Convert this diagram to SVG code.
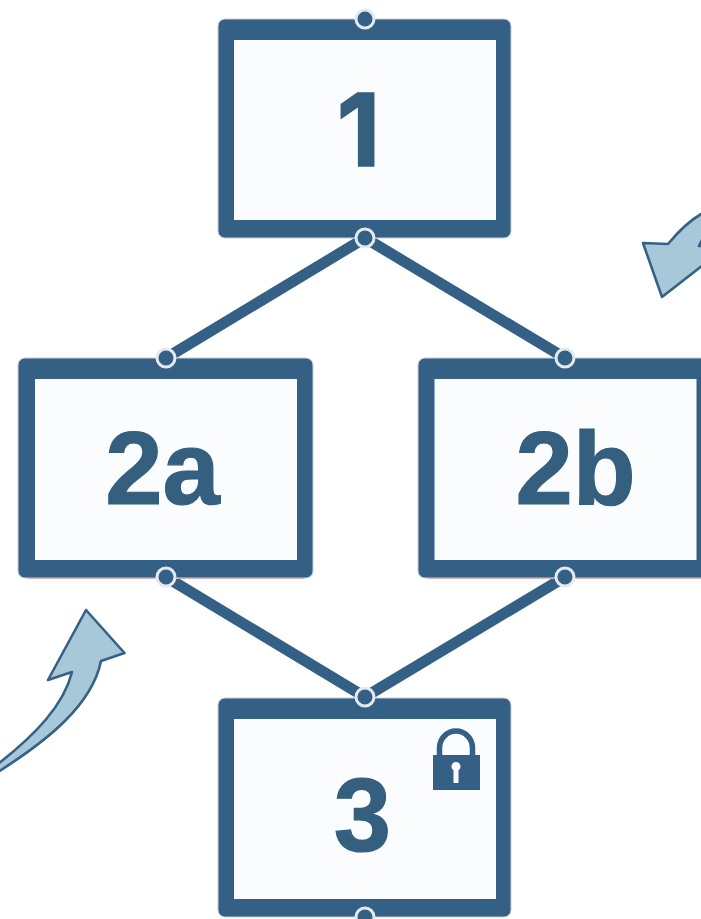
<svg xmlns="http://www.w3.org/2000/svg" width="701" height="919" viewBox="0 0 701 919">
<defs><filter id="soft" x="-5%" y="-5%" width="110%" height="110%"><feGaussianBlur stdDeviation="0.7"/></filter></defs>
<style>
.outer{fill:#356186;stroke:#c9ced3;stroke-width:1}
.inner{fill:#fbfcfe}
.lbl{font-family:"Liberation Sans",Arial,sans-serif;font-weight:700;font-size:103px;fill:#355e7f;stroke:#355e7f;stroke-width:1.200;text-anchor:middle}
.one{font-family:Inter,"Liberation Sans",sans-serif;font-size:101px;stroke-width:1.500}
.conn{stroke:#356186;stroke-width:11;fill:none}
.port{fill:#356186;stroke:#e4e9ee;stroke-width:3}
.arrow{fill:#a6c8d9;stroke:#356186;stroke-width:2.600;stroke-linejoin:round}
.edge{stroke:#e79aa3;stroke-width:1.200}
</style>
<rect width="701" height="919" fill="#ffffff"/>
<g id="connectors" filter="url(#soft)">
<line class="conn" x1="365" y1="238" x2="166" y2="358"/>
<line class="conn" x1="365" y1="238" x2="565" y2="358"/>
<line class="conn" x1="166" y1="577" x2="365" y2="697"/>
<line class="conn" x1="565" y1="577" x2="365" y2="697"/>
</g>
<g id="node-1" filter="url(#soft)">
<rect class="outer" x="218" y="19" width="293" height="219" rx="7"/>
<rect class="inner" x="234" y="40" width="262" height="180"/>
<text class="lbl one" x="358.500" y="166">1</text>
<circle class="port" cx="365" cy="19" r="9"/>
<circle class="port" cx="365" cy="238" r="9"/>
</g>
<g id="node-2a" filter="url(#soft)">
<line class="edge" x1="28" y1="578.500" x2="304" y2="578.500"/>
<rect class="outer" x="18" y="358" width="295" height="220" rx="7"/>
<rect class="inner" x="35" y="379" width="262" height="181"/>
<text class="lbl" x="162.500" y="504">2a</text>
<circle class="port" cx="166" cy="358" r="9"/>
<circle class="port" cx="166" cy="577" r="9"/>
</g>
<g id="node-2b" filter="url(#soft)">
<line class="edge" x1="428" y1="578.500" x2="701" y2="578.500"/>
<rect class="outer" x="418" y="358" width="295" height="220" rx="7"/>
<rect class="inner" x="434.500" y="379" width="262" height="181"/>
<text class="lbl" x="575.500" y="504">2b</text>
<circle class="port" cx="565" cy="358" r="9"/>
<circle class="port" cx="565" cy="577" r="9"/>
</g>
<g id="node-3" filter="url(#soft)">
<rect class="outer" x="218" y="698" width="293" height="219" rx="7"/>
<rect class="inner" x="234" y="719" width="262" height="180"/>
<text class="lbl" x="362.500" y="851">3</text>
<circle class="port" cx="365" cy="697" r="9"/>
<circle class="port" cx="365" cy="917" r="9"/>
<path d="M439.500 756V748A16.500 17 0 0 1 472.500 748V756" fill="none" stroke="#356186" stroke-width="5.500"/>
<rect x="433" y="755" width="47" height="35" fill="#356186"/>
<path d="M456 762a4.500 4.500 0 0 1 2.500 8.200V783h-5V770.200A4.500 4.500 0 0 1 456 762z" fill="#fbfcfe"/>
</g>
<g id="arrow-lower">
<path class="arrow" d="M86 610L124.500 653L101 661C92 705 48 740 -2 772L-2 764C35 735 64 705 72 672L48 680Z"/>
</g>
<g id="arrow-upper">
<path class="arrow" d="M703 213C690 220 678 232 668 244L643 243L662 297L703 265L703 246L699 246L703 238"/>
</g>
</svg>
